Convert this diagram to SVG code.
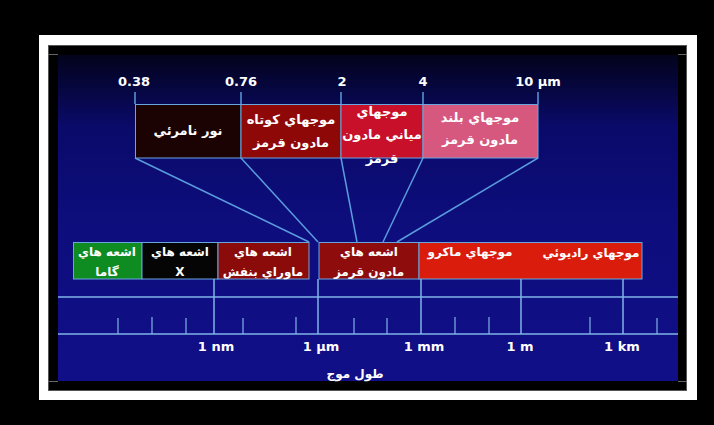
<svg xmlns="http://www.w3.org/2000/svg" width="714" height="425" viewBox="0 0 714 425">
<defs>
<linearGradient id="bg" x1="0" y1="0" x2="0" y2="1">
<stop offset="0" stop-color="#03031c"/>
<stop offset="0.22" stop-color="#0a0a6a"/>
<stop offset="0.5" stop-color="#0d0d7c"/>
<stop offset="1" stop-color="#110f88"/>
</linearGradient>
<style>
.box{stroke:#6aa6de;stroke-width:1}
.fa{font-family:"DejaVu Sans",sans-serif;font-weight:bold;fill:#fff;font-size:13px;text-anchor:middle}
.fm{font-family:"DejaVu Sans",sans-serif;font-weight:bold;fill:#fff;font-size:12px;text-anchor:middle}
.num{font-family:"DejaVu Sans",sans-serif;font-weight:bold;fill:#fff;font-size:13px;text-anchor:middle}
.ax{font-family:"DejaVu Sans",sans-serif;font-weight:bold;fill:#fff;font-size:13px;text-anchor:middle}
.ln{stroke:#5a9cdc;stroke-width:1.5;fill:none}
.tk{stroke:#7fb4e6;stroke-width:1.5}
</style>
</defs>
<rect width="714" height="425" fill="#000"/>
<rect x="39" y="35" width="658" height="365" fill="#fff"/>
<rect x="48.5" y="45.5" width="638" height="345" fill="#000" stroke="#555" stroke-width="1"/>
<rect x="58" y="55" width="620" height="326" fill="url(#bg)"/>
<g stroke="#666" stroke-width="1">
<line x1="48" y1="54.5" x2="58" y2="54.5"/>
<line x1="678" y1="54.5" x2="687" y2="54.5"/>
<line x1="48" y1="381.5" x2="58" y2="381.5"/>
<line x1="678" y1="381.5" x2="687" y2="381.5"/>
</g>

<g id="scale-labels">
<text class="num" x="134" y="86">0.38</text>
<text class="num" x="241" y="86">0.76</text>
<text class="num" x="342" y="86">2</text>
<text class="num" x="423" y="86">4</text>
<text class="num" x="538" y="86">10 µm</text>
</g>

<g id="connectors">
<line class="ln" x1="135" y1="92" x2="135" y2="104"/>
<line class="ln" x1="241" y1="92" x2="241" y2="104"/>
<line class="ln" x1="341" y1="92" x2="341" y2="104"/>
<line class="ln" x1="423" y1="92" x2="423" y2="104"/>
<line class="ln" x1="538" y1="92" x2="538" y2="104"/>
<line class="ln" x1="135" y1="158" x2="309" y2="242"/>
<line class="ln" x1="241" y1="158" x2="318" y2="242"/>
<line class="ln" x1="341" y1="158" x2="357" y2="242"/>
<line class="ln" x1="423" y1="158" x2="383" y2="242"/>
<line class="ln" x1="538" y1="158" x2="397" y2="242"/>
</g>

<g id="visible">
<rect class="box" x="135.5" y="104.5" width="105.5" height="53.5" fill="#1c0303"/>
<text class="fa" x="188" y="135">نور نامرئي</text>
</g>
<g id="short-ir">
<rect class="box" x="241" y="104.5" width="100" height="53.5" fill="#8e0808"/>
<text class="fa" x="291" y="124">موجهاي کوتاه</text>
<text class="fa" x="291" y="147">مادون قرمز</text>
</g>
<g id="mid-ir">
<rect class="box" x="341" y="104.5" width="82" height="53.5" fill="#c8102a"/>
<text class="fa" x="382" y="116">موجهاي</text>
<text class="fa" x="382" y="139">مياني مادون</text>
<text class="fa" x="382" y="163">قرمز</text>
</g>
<g id="long-ir">
<rect class="box" x="423" y="104.5" width="115" height="53.5" fill="#d6587f"/>
<text class="fa" x="480" y="122">موجهاي بلند</text>
<text class="fa" x="480" y="144">مادون قرمز</text>
</g>

<g id="gamma">
<rect class="box" x="73.5" y="242.5" width="68.5" height="36.5" fill="#0e8c22"/>
<text class="fm" x="107" y="256">اشعه هاي</text>
<text class="fm" x="107" y="276">گاما</text>
</g>
<g id="xray">
<rect class="box" x="142" y="242.5" width="76" height="36.5" fill="#050505"/>
<text class="fm" x="180" y="256">اشعه هاي</text>
<text class="fm" x="180" y="276">X</text>
</g>
<g id="uv">
<rect class="box" x="218" y="242.5" width="91" height="36.5" fill="#8b0a0a"/>
<text class="fm" x="263" y="256">اشعه هاي</text>
<text class="fm" x="263" y="276">ماوراي بنفش</text>
</g>
<g id="ir">
<rect class="box" x="319" y="242.5" width="100" height="36.5" fill="#8e0c0c"/>
<text class="fm" x="369" y="256">اشعه هاي</text>
<text class="fm" x="369" y="276">مادون قرمز</text>
</g>
<g id="micro-radio">
<rect class="box" x="419" y="242.5" width="223" height="36.5" fill="#d91c0c"/>
<text class="fm" x="470" y="256">موجهاي ماکرو</text>
<text class="fm" x="591" y="257">موجهاي راديوئي</text>
</g>

<g id="axis">
<line class="tk" x1="58" y1="297" x2="678" y2="297"/>
<line class="tk" x1="58" y1="334" x2="678" y2="334"/>
<line class="tk" x1="214" y1="279" x2="214" y2="334"/>
<line class="tk" x1="318" y1="279" x2="318" y2="334"/>
<line class="tk" x1="421" y1="279" x2="421" y2="334"/>
<line class="tk" x1="521" y1="279" x2="521" y2="334"/>
<line class="tk" x1="623" y1="279" x2="623" y2="334"/>
<g stroke="#7fb4e6" stroke-width="1.2">
<line x1="118" y1="318" x2="118" y2="334"/>
<line x1="152" y1="317" x2="152" y2="334"/>
<line x1="186" y1="318" x2="186" y2="334"/>
<line x1="243" y1="318" x2="243" y2="334"/>
<line x1="296" y1="317" x2="296" y2="334"/>
<line x1="354" y1="318" x2="354" y2="334"/>
<line x1="387" y1="318" x2="387" y2="334"/>
<line x1="455" y1="317" x2="455" y2="334"/>
<line x1="489" y1="317" x2="489" y2="334"/>
<line x1="590" y1="317" x2="590" y2="334"/>
<line x1="657" y1="318" x2="657" y2="334"/>
</g>
<text class="ax" x="216" y="351">1 nm</text>
<text class="ax" x="321" y="351">1 µm</text>
<text class="ax" x="424" y="351">1 mm</text>
<text class="ax" x="520" y="351">1 m</text>
<text class="ax" x="622" y="351">1 km</text>
<text class="fm" x="355" y="378" font-weight="normal">طول موج</text>
</g>
</svg>
